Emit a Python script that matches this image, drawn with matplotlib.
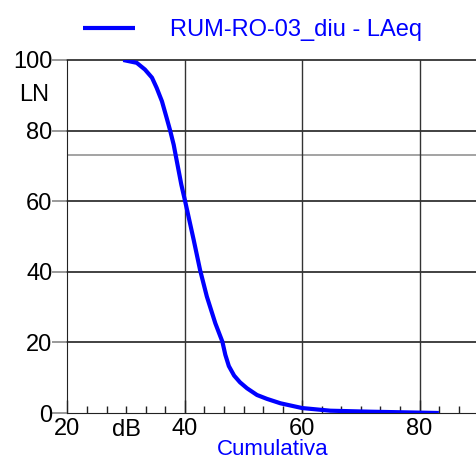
import matplotlib
matplotlib.use("Agg")
import matplotlib.pyplot as plt
from matplotlib.ticker import MultipleLocator

plt.rcParams["font.family"] = ["Liberation Sans", "DejaVu Sans"]

BLUE = "#0000ff"
GRID = "#333333"
FS = 17

# cumulative level distribution
db = [29.5, 31.8, 33.2, 34.4, 35.2, 36.1, 36.9, 37.5, 38.1, 38.5, 39.4,
      40.05, 41.5, 42.6, 43.75, 45.2, 46.4, 46.9, 47.5, 48.4, 49.4, 50.6,
      52.3, 54.0, 56.3, 60.0, 64.8, 71.6, 80.2, 83.3]
ln = [100, 99.2, 97.3, 95.0, 92.1, 88.3, 83.6, 80, 76.0, 72.5, 64.7,
      60, 49.1, 40.5, 33, 25.4, 20.2, 16.5, 13.3, 10.6, 8.7, 7.0,
      5.1, 4.0, 2.75, 1.4, 0.65, 0.37, 0.1, 0]
series = "RUM-RO-03_diu - LAeq"
y_ticks = [0, 20, 40, 60, 80, 100]
x_major = [20, 40, 60, 80]
marker_level = 73

fig = plt.figure(figsize=(4.77, 4.61), dpi=100)
ax = fig.add_axes([67.5 / 477, 48 / 461, 1 - 67.5 / 477, 353 / 461])
ax.set_xlim(20, 89.8)
ax.set_ylim(0, 100)

for y in y_ticks[1:]:
    ax.axhline(y, color=GRID, lw=1.3, zorder=1, clip_on=False)
ax.axhline(marker_level, color="#8a8a8a", lw=1.1, zorder=1)
for x in x_major[1:]:
    ax.axvline(x, color=GRID, lw=1.0, zorder=1)

ax.plot(db, ln, color=BLUE, lw=3.0, zorder=3, label=series,
        solid_capstyle="butt", solid_joinstyle="round")

for s in ("top", "right"):
    ax.spines[s].set_visible(False)
ax.spines["left"].set_color("#222222")
ax.spines["bottom"].set_color("#222222")

ax.set_yticks(y_ticks)
ax.tick_params(axis="y", direction="out", length=10.8, width=1.2,
               color="#888888", labelsize=FS, pad=0)
ax.set_xticks(x_major)
ax.xaxis.set_minor_locator(MultipleLocator(10 / 3))
ax.tick_params(axis="x", which="major", direction="in", length=9.4,
               width=1.0, color="#222222", labelsize=FS, pad=3.5)
ax.tick_params(axis="x", which="minor", direction="in", length=5,
               width=1.0, color="#222222")

ax.text(30, -1.6, "dB", ha="center", va="top", fontsize=FS)
ax.text(-0.045, 90, "LN", transform=ax.get_yaxis_transform(), ha="right",
        va="center", fontsize=FS)
ax.set_xlabel("Cumulativa", color=BLUE, fontsize=16, labelpad=-0.8)

fig.legend(loc="center left", bbox_to_anchor=(83 / 477, 1 - 30 / 461),
           frameon=False, fontsize=FS, labelcolor=BLUE, handlelength=2.2,
           handletextpad=1.5, borderpad=0, borderaxespad=0)

fig.savefig("out.png", dpi=100)
